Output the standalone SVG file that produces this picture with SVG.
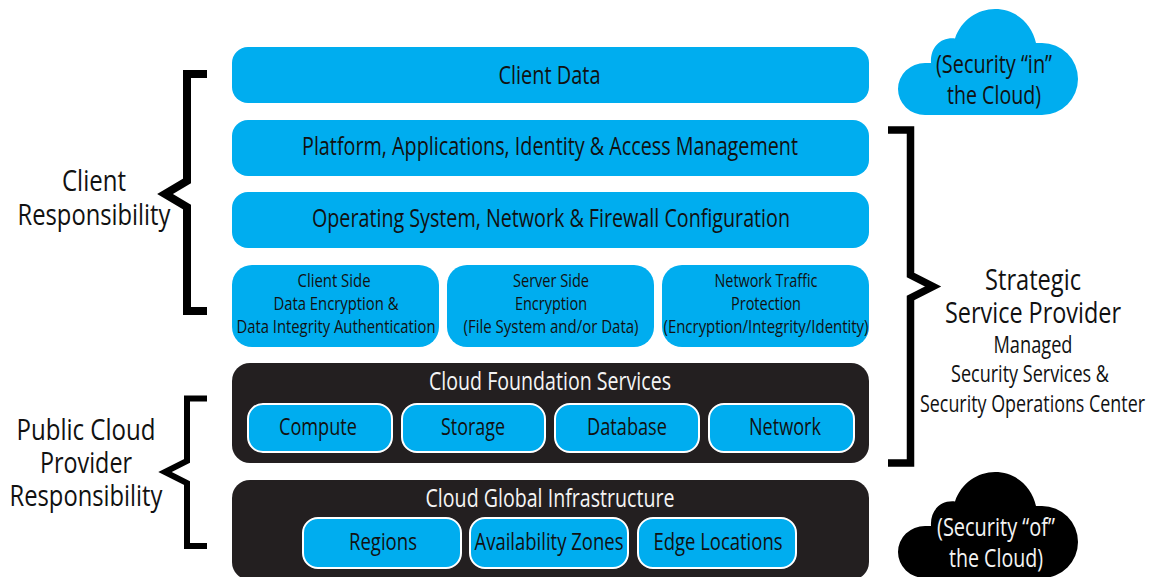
<svg xmlns="http://www.w3.org/2000/svg" width="1163" height="577" viewBox="0 0 1163 577">
<style>
text{font-family:"Open Sans","Noto Sans","Liberation Sans",sans-serif;text-anchor:middle;fill:#111;font-size:25px}
.w{fill:#f4f4f4}
.s{font-size:18.500px}
.m{font-size:23px}
.t{font-size:25px}
.l{font-size:30px}
.blue{fill:#00adef}
.dark{fill:#231f20}
.inner{fill:#00adef;stroke:#fff;stroke-width:2}
.br{fill:none;stroke:#000;stroke-width:8;stroke-miterlimit:10}
</style>
<defs>
<path id="cloud" d="M925 115A27 26 0 0 1 925 63L931 63C930 48 940 37 955 38.500C961 20 978 9 995 9C1016 9 1032 24 1036 43L1042 43A36 36 0 0 1 1042 115Z"/>
</defs>
<g id="connectors">
<path class="br" d="M207 74H187V181L165 194L187 207V311H207"/>
<path class="br" style="stroke-width:6" d="M207 398.500H187V461L165 472L187 483V546H207"/>
<path class="br" style="stroke-width:7.500" d="M888 130H910.500V275L933 286.500L910.500 298V463H888"/>
</g>
<g id="client-data"><rect class="blue" x="232" y="47" width="637" height="56" rx="16"/><text x="549.500" y="84" textLength="102" lengthAdjust="spacingAndGlyphs">Client Data</text></g>
<g id="platform"><rect class="blue" x="232" y="120" width="637" height="56" rx="16"/><text x="550" y="155" textLength="496" lengthAdjust="spacingAndGlyphs">Platform, Applications, Identity &amp; Access Management</text></g>
<g id="os"><rect class="blue" x="232" y="192" width="637" height="56" rx="16"/><text x="551" y="227" textLength="478" lengthAdjust="spacingAndGlyphs">Operating System, Network &amp; Firewall Configuration</text></g>
<g id="client-side"><rect class="blue" x="232" y="265" width="207" height="82" rx="20"/>
<text class="s" x="334" y="287" textLength="73" lengthAdjust="spacingAndGlyphs">Client Side</text>
<text class="s" x="336" y="310" textLength="125" lengthAdjust="spacingAndGlyphs">Data Encryption &amp;</text>
<text class="s" x="336" y="333" textLength="199" lengthAdjust="spacingAndGlyphs">Data Integrity Authentication</text></g>
<g id="server-side"><rect class="blue" x="447" y="265" width="207" height="82" rx="20"/>
<text class="s" x="551" y="287" textLength="76" lengthAdjust="spacingAndGlyphs">Server Side</text>
<text class="s" x="551" y="310" textLength="72" lengthAdjust="spacingAndGlyphs">Encryption</text>
<text class="s" x="551" y="333" textLength="175" lengthAdjust="spacingAndGlyphs">(File System and/or Data)</text></g>
<g id="network-traffic"><rect class="blue" x="662" y="265" width="207" height="82" rx="20"/>
<text class="s" x="766" y="287" textLength="103" lengthAdjust="spacingAndGlyphs">Network Traffic</text>
<text class="s" x="766" y="310" textLength="70" lengthAdjust="spacingAndGlyphs">Protection</text>
<text class="s" x="766" y="333" textLength="205" lengthAdjust="spacingAndGlyphs">(Encryption/Integrity/Identity)</text></g>
<g id="foundation"><rect class="dark" x="232" y="363" width="637" height="100" rx="18"/>
<text class="t w" x="550" y="390" textLength="242" lengthAdjust="spacingAndGlyphs">Cloud Foundation Services</text></g>
<g id="compute"><rect class="inner" x="248" y="404" width="144" height="48" rx="15"/><text class="m" x="318" y="435" textLength="78" lengthAdjust="spacingAndGlyphs">Compute</text></g>
<g id="storage"><rect class="inner" x="402" y="404" width="143" height="48" rx="15"/><text class="m" x="473" y="435" textLength="64" lengthAdjust="spacingAndGlyphs">Storage</text></g>
<g id="database"><rect class="inner" x="555" y="404" width="144" height="48" rx="15"/><text class="m" x="627" y="435" textLength="80" lengthAdjust="spacingAndGlyphs">Database</text></g>
<g id="network"><rect class="inner" x="709" y="404" width="145" height="48" rx="15"/><text class="m" x="785" y="435" textLength="72" lengthAdjust="spacingAndGlyphs">Network</text></g>
<g id="infrastructure"><rect class="dark" x="232" y="480" width="637" height="100" rx="18"/>
<text class="t w" x="550" y="507" textLength="249" lengthAdjust="spacingAndGlyphs">Cloud Global Infrastructure</text></g>
<g id="regions"><rect class="inner" x="303" y="518" width="158" height="50" rx="15"/><text class="m" x="383" y="550" textLength="68" lengthAdjust="spacingAndGlyphs">Regions</text></g>
<g id="zones"><rect class="inner" x="470" y="518" width="158" height="50" rx="15"/><text class="m" x="549" y="550" textLength="149" lengthAdjust="spacingAndGlyphs">Availability Zones</text></g>
<g id="edge"><rect class="inner" x="638" y="518" width="158" height="50" rx="15"/><text class="m" x="718" y="550" textLength="129" lengthAdjust="spacingAndGlyphs">Edge Locations</text></g>
<g id="client-resp"><text class="l" x="94" y="191" textLength="64" lengthAdjust="spacingAndGlyphs">Client</text><text class="l" x="94" y="225" textLength="153" lengthAdjust="spacingAndGlyphs">Responsibility</text></g>
<g id="public-resp"><text class="l" x="86" y="440" textLength="139" lengthAdjust="spacingAndGlyphs">Public Cloud</text><text class="l" x="86" y="473" textLength="92" lengthAdjust="spacingAndGlyphs">Provider</text><text class="l" x="86" y="506" textLength="153" lengthAdjust="spacingAndGlyphs">Responsibility</text></g>
<g id="provider"><text class="l" x="1033" y="290" textLength="96" lengthAdjust="spacingAndGlyphs">Strategic</text><text class="l" x="1033" y="323" textLength="176" lengthAdjust="spacingAndGlyphs">Service Provider</text>
<text class="m" x="1033" y="353" textLength="79" lengthAdjust="spacingAndGlyphs">Managed</text><text class="m" x="1030" y="382" textLength="158" lengthAdjust="spacingAndGlyphs">Security Services &amp;</text><text class="m" x="1032.500" y="412" textLength="225" lengthAdjust="spacingAndGlyphs">Security Operations Center</text></g>
<g id="cloud-in"><use href="#cloud" class="blue"/><text class="t" x="994" y="73" textLength="116" lengthAdjust="spacingAndGlyphs">(Security “in”</text><text class="t" x="994" y="104" textLength="94" lengthAdjust="spacingAndGlyphs">the Cloud)</text></g>
<g id="cloud-of"><use href="#cloud" y="463" fill="#000"/><text class="t w" x="996" y="536" textLength="118" lengthAdjust="spacingAndGlyphs">(Security “of”</text><text class="t w" x="996" y="567" textLength="94" lengthAdjust="spacingAndGlyphs">the Cloud)</text></g>
</svg>
